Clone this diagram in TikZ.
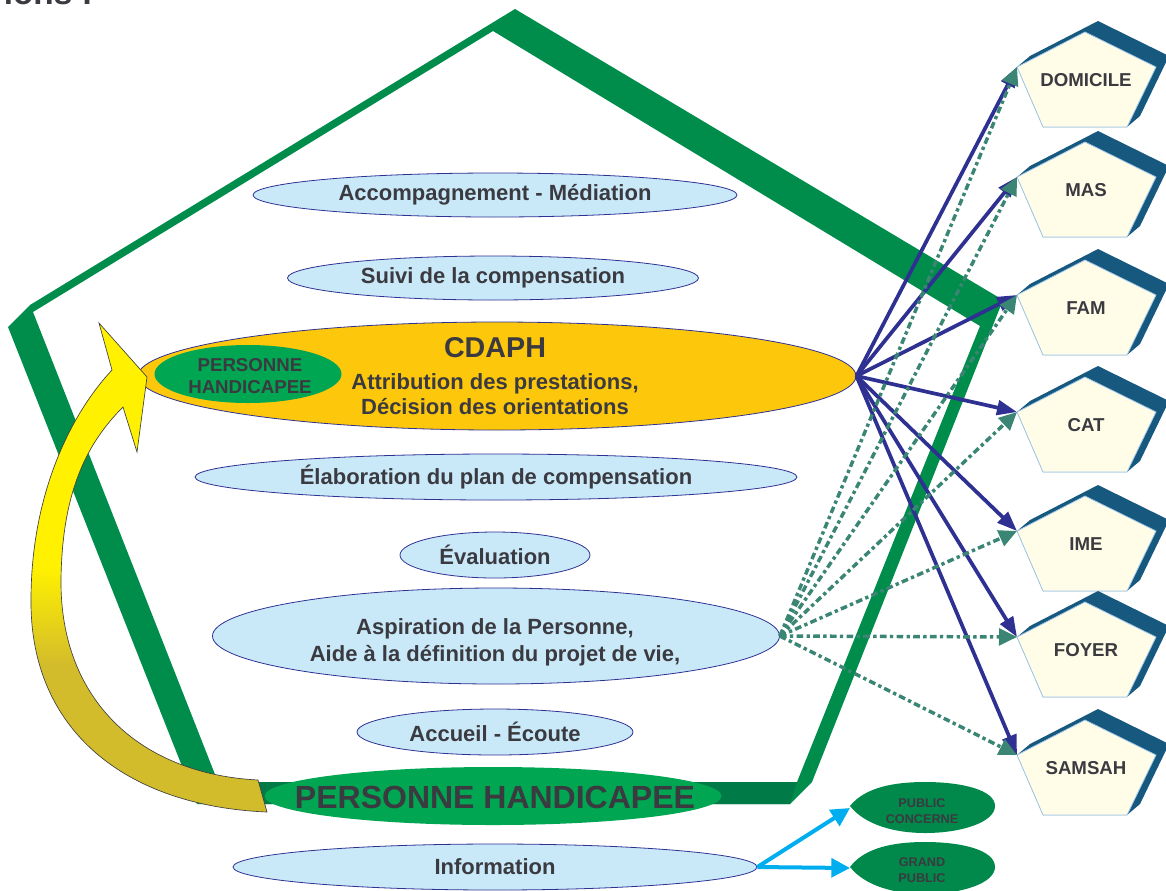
\documentclass[tikz,border=0pt]{standalone}
\usepackage{fontspec}
\setmainfont{Liberation Sans}
\usetikzlibrary{arrows.meta,shapes.geometric}
\definecolor{pgreen}{HTML}{008D4C}
\definecolor{pgreendark}{HTML}{007A47}
\definecolor{ellblue}{HTML}{C9E9F9}
\definecolor{navyA}{HTML}{2E3192}
\definecolor{orangeA}{HTML}{FDC70C}
\definecolor{brightgreen}{HTML}{00A651}
\definecolor{txtgray}{HTML}{3A3A40}
\definecolor{tealA}{HTML}{3A8573}
\definecolor{cream}{HTML}{FFFDE8}
\definecolor{penborder}{HTML}{9CC5E8}
\definecolor{darkblueA}{HTML}{17587F}
\definecolor{skyA}{HTML}{00AEEF}
\definecolor{leafgreen}{HTML}{00894A}
\definecolor{yelA}{HTML}{FFF100}
\definecolor{goldA}{HTML}{D3BC2B}
\pgfdeclareverticalshading{yelgold}{100bp}{color(0bp)=(goldA); color(25bp)=(goldA); color(40bp)=(goldA); color(50bp)=(yelA); color(100bp)=(yelA)}
\tikzset{
  ell/.style={ellipse, draw=navyA, line width=0.6pt, fill=ellblue, inner sep=0pt},
  lbl/.style={text=txtgray, font=\bfseries\fontsize{16.5}{20}\selectfont, inner sep=0pt, align=center},
  plbl/.style={text=txtgray, font=\bfseries\fontsize{14}{16}\selectfont, inner sep=0pt},
  leaflbl/.style={text=txtgray, font=\bfseries\fontsize{9.5}{12.5}\selectfont, inner sep=0pt, align=center},
  bluearr/.style={draw=navyA, line width=2.8pt, -{Triangle[length=15pt,width=11pt]}},
  tealarr/.style={draw=tealA, line width=2.6pt, dash pattern=on 5pt off 2.5pt on 2.5pt off 2.5pt, -{Triangle[length=13.5pt,width=12.5pt]}},
  skyarr/.style={draw=skyA, line width=3pt, -{Triangle[length=14pt,width=14pt]}},
}
\begin{document}
\begin{tikzpicture}[x=0.75pt,y=-0.75pt]
\useasboundingbox (0,0) rectangle (1166,890);
% cut-off title
\node[anchor=base east, text=txtgray, font=\bfseries\fontsize{25}{30}\selectfont, inner sep=0pt] (title) at (93,4) {ions :};
% big pentagon
\fill[pgreen, even odd rule] (515,9) -- (1003,300) -- (812,782) -- (790,804) -- (197,804) -- (8,327) -- (30,305) -- cycle
  (493,31) -- (980,326) -- (797,782) -- (218,782) -- (33,312) -- cycle;
\fill[pgreendark] (218,782) -- (797,782) -- (790,804) -- (227,804) -- cycle;
% ellipses
\node[ell, minimum width=363pt, minimum height=33pt] (accomp) at (495,195) {};
\node[lbl] (accompt) at (accomp) {Accompagnement - Médiation};
\node[ell, minimum width=308.25pt, minimum height=33pt] (suivi) at (493,278) {};
\node[lbl] (suivit) at (suivi) {Suivi de la compensation};
\node[ell, fill=orangeA, minimum width=538.5pt, minimum height=81pt] (cdaph) at (497,376) {};
\node[text=txtgray, font=\bfseries\fontsize{21.5}{24}\selectfont, inner sep=0pt] (cdapht) at (495,348) {CDAPH};
\node[lbl, font=\bfseries\fontsize{16.5}{18.75}\selectfont] (cdaphs) at (495,394) {Attribution des prestations,\\Décision des orientations};
\node[ellipse, fill=brightgreen, inner sep=0pt, minimum width=140.25pt, minimum height=43.5pt] (phsmall) at (248,374) {};
\node[lbl, font=\bfseries\fontsize{14}{16.5}\selectfont] (phsmallt) at (250,376) {PERSONNE\\HANDICAPEE};
\node[ell, minimum width=451.5pt, minimum height=34.5pt] (elab) at (496,477) {};
\node[lbl] (elabt) at (elab) {Élaboration du plan de compensation};
\node[ell, minimum width=142.5pt, minimum height=34.5pt] (eval) at (495,555) {};
\node[lbl] (evalt) at (eval) {Évaluation};
\node[ell, minimum width=425.25pt, minimum height=72pt] (aspir) at (496,636) {};
\node[lbl, font=\bfseries\fontsize{16.5}{20}\selectfont] (aspirt) at (495,642) {Aspiration de la Personne,\\Aide à la définition du projet de vie,};
\node[ell, minimum width=207pt, minimum height=34.5pt] (accueil) at (495,732) {};
\node[lbl] (accueilt) at (accueil) {Accueil - Écoute};
\node[ellipse, fill=brightgreen, inner sep=0pt, minimum width=342.75pt, minimum height=43.5pt] (phbig) at (493,796) {};
\node[text=txtgray, font=\bfseries\fontsize{24}{28}\selectfont, inner sep=0pt] (phbigt) at (495,797) {PERSONNE HANDICAPEE};
\node[ell, minimum width=393pt, minimum height=34.5pt] (info) at (495,867) {};
\node[lbl] (infot) at (info) {Information};
% destination pentagons
\foreach \nm/\lab/\ly in {dom/DOMICILE/67,mas/MAS/177,fam/FAM/295,cat/CAT/412,ime/IME/531,foy/FOYER/637,sam/SAMSAH/755}{
  \fill[darkblueA] (1017,\ly) -- (1030,\ly-11) -- (1098,\ly-46) -- (1169,\ly-11) -- (1140,\ly+49) -- (1127,\ly+60) -- (1043,\ly+60) -- cycle;
  \filldraw[fill=cream, draw=penborder, line width=0.6pt] (1017,\ly) -- (1085,\ly-35) -- (1156,\ly) -- (1127,\ly+60) -- (1043,\ly+60) -- cycle;
  \coordinate (\nm) at (1017,\ly);
  \node[plbl] (\nm-t) at (1086,\ly+13) {\lab};
}
% arrows
\foreach \nm in {dom,mas,fam,cat,ime,foy,sam}{
  \draw[bluearr] (cdaph.east) -- (\nm);
}
\foreach \nm in {dom,mas,fam,cat,ime,foy,sam}{
  \draw[tealarr] (aspir.east) -- (\nm);
}
% yellow curved arrow
\shade[shading=yelgold, draw=black!75, line width=0.5pt]
  (267,812) .. controls (125,806) and (30,730) .. (31,600)
  .. controls (31,495) and (70,415) .. (112,370)
  -- (99,323) -- (147,377) -- (137,452) -- (123,407)
  .. controls (88,442) and (62,490) .. (61,580)
  .. controls (60,700) and (140,774) .. (258,780) -- cycle;
% public leaves
\fill[leafgreen] (850,806) .. controls (865,787) and (895,782) .. (925,782) .. controls (962,782) and (995,790) .. (995,806) .. controls (995,822) and (962,833) .. (925,833) .. controls (895,833) and (865,825) .. (850,806) -- cycle;
\coordinate (pubc) at (850,808);
\node[leaflbl] (pubct) at (922,811) {PUBLIC\\CONCERNE};
\fill[leafgreen] (850,867) .. controls (865,847) and (895,842) .. (925,842) .. controls (962,842) and (995,850) .. (995,867) .. controls (995,883) and (962,894) .. (925,894) .. controls (895,894) and (865,886) .. (850,867) -- cycle;
\coordinate (grand) at (850,868);
\node[leaflbl] (grandt) at (922,870) {GRAND\\PUBLIC};
\draw[skyarr] (info.east) -- (pubc);
\draw[skyarr] (info.east) -- (grand);
\end{tikzpicture}
\end{document}
